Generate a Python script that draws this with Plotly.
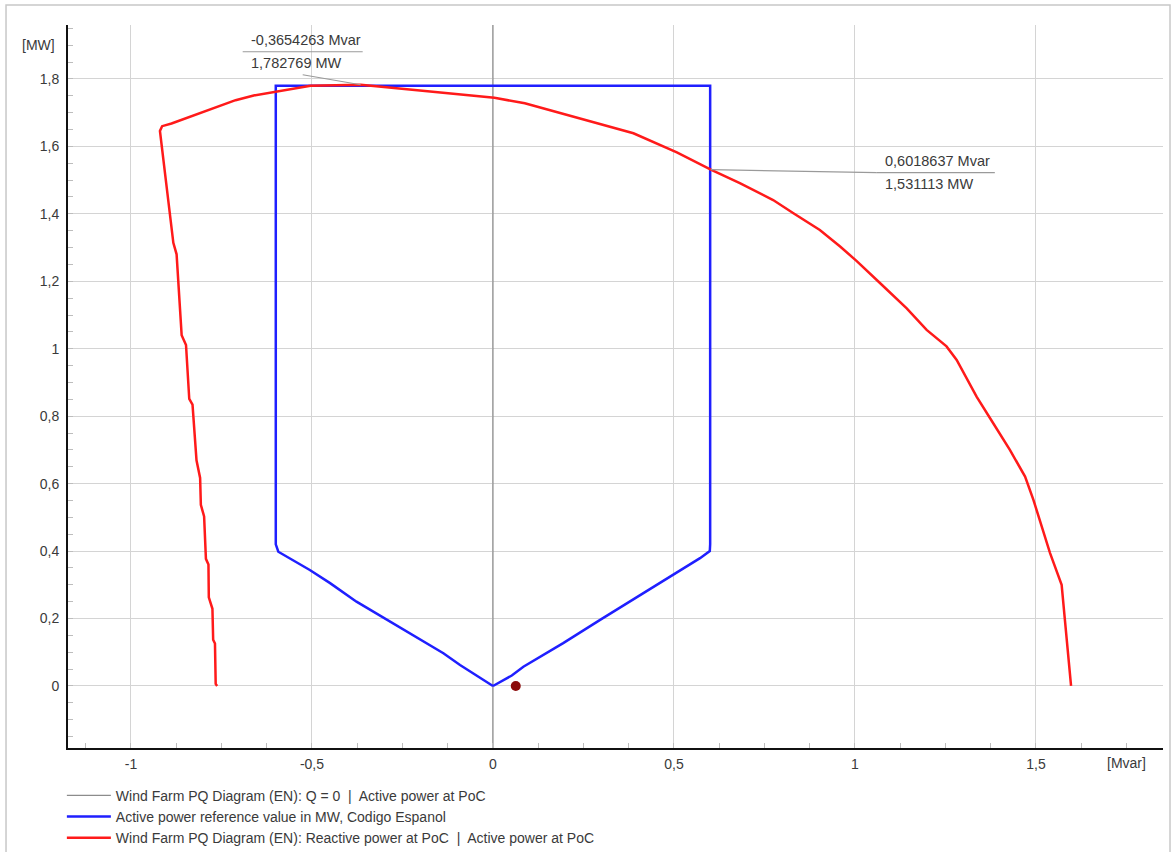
import plotly.graph_objects as go

# ---- data -------------------------------------------------------------
q0_x = [0, 0]
q0_p = [-0.2, 2.0]

ref_q = [0.0, -0.091, -0.137, -0.238, -0.303, -0.377, -0.450, -0.506, -0.593, -0.600,
         -0.600, 0.600, 0.600, 0.599, 0.572, 0.507, 0.397, 0.296, 0.194, 0.084, 0.052, 0.0]
ref_p = [0.0, 0.062, 0.097, 0.161, 0.201, 0.250, 0.305, 0.344, 0.398, 0.42,
         1.78, 1.78, 0.42, 0.400, 0.379, 0.336, 0.265, 0.196, 0.127, 0.057, 0.031, 0.0]

pq_q = [-0.762, -0.766, -0.768, -0.773, -0.775, -0.785, -0.786, -0.793, -0.798, -0.807,
        -0.809, -0.819, -0.830, -0.839, -0.848, -0.860, -0.874, -0.883, -0.920, -0.914,
        -0.888, -0.711, -0.661, -0.597, -0.504, -0.3654263, -0.158, 0.004, 0.088, 0.236,
        0.296, 0.388, 0.508, 0.6018637, 0.682, 0.774, 0.830, 0.903, 0.959, 1.005,
        1.069, 1.143, 1.198, 1.253, 1.281, 1.336, 1.382, 1.428, 1.470, 1.493,
        1.539, 1.571, 1.580, 1.589, 1.597]
pq_p = [0.0, 0.006, 0.126, 0.137, 0.229, 0.263, 0.360, 0.377, 0.503, 0.537,
        0.617, 0.669, 0.834, 0.851, 1.011, 1.040, 1.280, 1.314, 1.646, 1.660,
        1.668, 1.737, 1.751, 1.763, 1.780, 1.782769, 1.760, 1.744, 1.728, 1.683,
        1.667, 1.639, 1.582, 1.531113, 1.491, 1.441, 1.402, 1.352, 1.303, 1.260,
        1.195, 1.120, 1.056, 1.007, 0.967, 0.858, 0.779, 0.700, 0.621, 0.552,
        0.394, 0.300, 0.196, 0.097, 0.0]

op_q = [0.063]
op_p = [0.0]

x_tick_vals = [-1, -0.5, 0, 0.5, 1, 1.5]
x_tick_text = ["-1", "-0,5", "0", "0,5", "1", "1,5"]
y_tick_vals = [0, 0.2, 0.4, 0.6, 0.8, 1.0, 1.2, 1.4, 1.6, 1.8]
y_tick_text = ["0", "0,2", "0,4", "0,6", "0,8", "1", "1,2", "1,4", "1,6", "1,8"]

marker_q = [-0.3654263, 0.6018637]
marker_p = [1.782769, 1.531113]
marker_q_text = ["-0,3654263 Mvar", "0,6018637 Mvar"]
marker_p_text = ["1,782769 MW", "1,531113 MW"]

legend_names = [
    "Wind Farm PQ Diagram (EN): Q = 0  |  Active power at PoC",
    "Active power reference value in MW, Codigo Espanol",
    "Wind Farm PQ Diagram (EN): Reactive power at PoC  |  Active power at PoC",
]

FONT = "Liberation Sans, Arial, sans-serif"
TXT = "#3a3a3a"
FS = 14

fig = go.Figure()
fig.add_trace(go.Scatter(x=q0_x, y=q0_p, mode="lines", name=legend_names[0],
                         line=dict(color="#8c8c8c", width=1.2)))
fig.add_trace(go.Scatter(x=ref_q, y=ref_p, mode="lines", name=legend_names[1],
                         line=dict(color="#1f1fff", width=2.5)))
fig.add_trace(go.Scatter(x=pq_q, y=pq_p, mode="lines", name=legend_names[2],
                         line=dict(color="#ff1a1a", width=2.5)))
fig.add_trace(go.Scatter(x=op_q, y=op_p, mode="markers", showlegend=False,
                         marker=dict(color="#8b0a0a", size=10)))

# marker labels (pixel offsets relative to the marked point)
label_cfg = [
    dict(leader=(0, 0, -58, 10), under=(-118, 2, 33), t1=(-112, 45), t2=(-112, 22)),
    dict(leader=(0, 0, 166, -3), under=(166, 284, -3), t1=(172, 9), t2=(172, -14)),
]
shapes = []
annotations = []
for i, c in enumerate(label_cfg):
    lx0, ly0, lx1, ly1 = c["leader"]
    shapes.append(dict(type="line", xref="x", yref="y", xsizemode="pixel", ysizemode="pixel",
                       xanchor=marker_q[i], yanchor=marker_p[i],
                       x0=lx0, y0=ly0, x1=lx1, y1=ly1,
                       line=dict(color="#9a9a9a", width=1.2)))
    ux0, ux1, uy = c["under"]
    shapes.append(dict(type="line", xref="x", yref="y", xsizemode="pixel", ysizemode="pixel",
                       xanchor=marker_q[i], yanchor=marker_p[i],
                       x0=ux0, y0=uy, x1=ux1, y1=uy,
                       line=dict(color="#9a9a9a", width=1.2)))
    for key, txt in (("t1", marker_q_text[i]), ("t2", marker_p_text[i])):
        dx, dy = c[key]
        annotations.append(dict(x=marker_q[i], y=marker_p[i], xref="x", yref="y",
                                text=txt, showarrow=False, xanchor="left", yanchor="middle",
                                xshift=dx, yshift=dy,
                                font=dict(family=FONT, size=14.5, color=TXT)))

# outer frame
shapes.append(dict(type="rect", xref="paper", yref="paper", x0=-0.0566, x1=1.0064,
                   y0=-0.17, y1=1.0277, line=dict(color="#c8c8c8", width=1.5),
                   layer="below"))

annotations.append(dict(x=-0.01, y=0.9723, xref="paper", yref="paper", text="[MW]",
                        showarrow=False, xanchor="right", yanchor="middle",
                        font=dict(family=FONT, size=FS, color=TXT)))
annotations.append(dict(x=0.967, y=-0.0207, xref="paper", yref="paper", text="[Mvar]",
                        showarrow=False, xanchor="center", yanchor="middle",
                        font=dict(family=FONT, size=FS, color=TXT)))

fig.update_layout(
    width=1175, height=852,
    margin=dict(l=68, r=12, t=25, b=104, autoexpand=False),
    paper_bgcolor="white", plot_bgcolor="white",
    separators=",.",
    font=dict(family=FONT, size=FS, color=TXT),
    showlegend=True,
    legend=dict(x=-0.0056, y=-0.044, xanchor="left", yanchor="top",
                bgcolor="rgba(0,0,0,0)", font=dict(family=FONT, size=FS, color=TXT),
                itemwidth=44, tracegroupgap=0),
    shapes=shapes,
    annotations=annotations,
)
fig.update_xaxes(range=[-1.174, 1.851], tickvals=x_tick_vals, ticktext=x_tick_text,
                 showgrid=True, gridcolor="#d4d4d4", gridwidth=1.3, zeroline=False,
                 showline=True, linecolor="#111111", linewidth=2,
                 ticks="inside", ticklen=5, tickcolor="#bdbdbd", tickwidth=1,
                 ticklabelstandoff=2,
                 minor=dict(ticks="inside", dtick=0.125, tick0=0, ticklen=5,
                            tickcolor="#bdbdbd", showgrid=False),
                 tickfont=dict(family=FONT, size=FS, color=TXT))
fig.update_yaxes(range=[-0.1839, 1.960], tickvals=y_tick_vals, ticktext=y_tick_text,
                 showgrid=True, gridcolor="#d4d4d4", gridwidth=1.3, zeroline=False,
                 showline=True, linecolor="#111111", linewidth=2,
                 ticks="inside", ticklen=5, tickcolor="#bdbdbd", tickwidth=1,
                 ticklabelstandoff=4,
                 minor=dict(ticks="inside", dtick=0.05, tick0=0, ticklen=5,
                            tickcolor="#bdbdbd", showgrid=False),
                 tickfont=dict(family=FONT, size=FS, color=TXT))

fig.write_html("out.html")
